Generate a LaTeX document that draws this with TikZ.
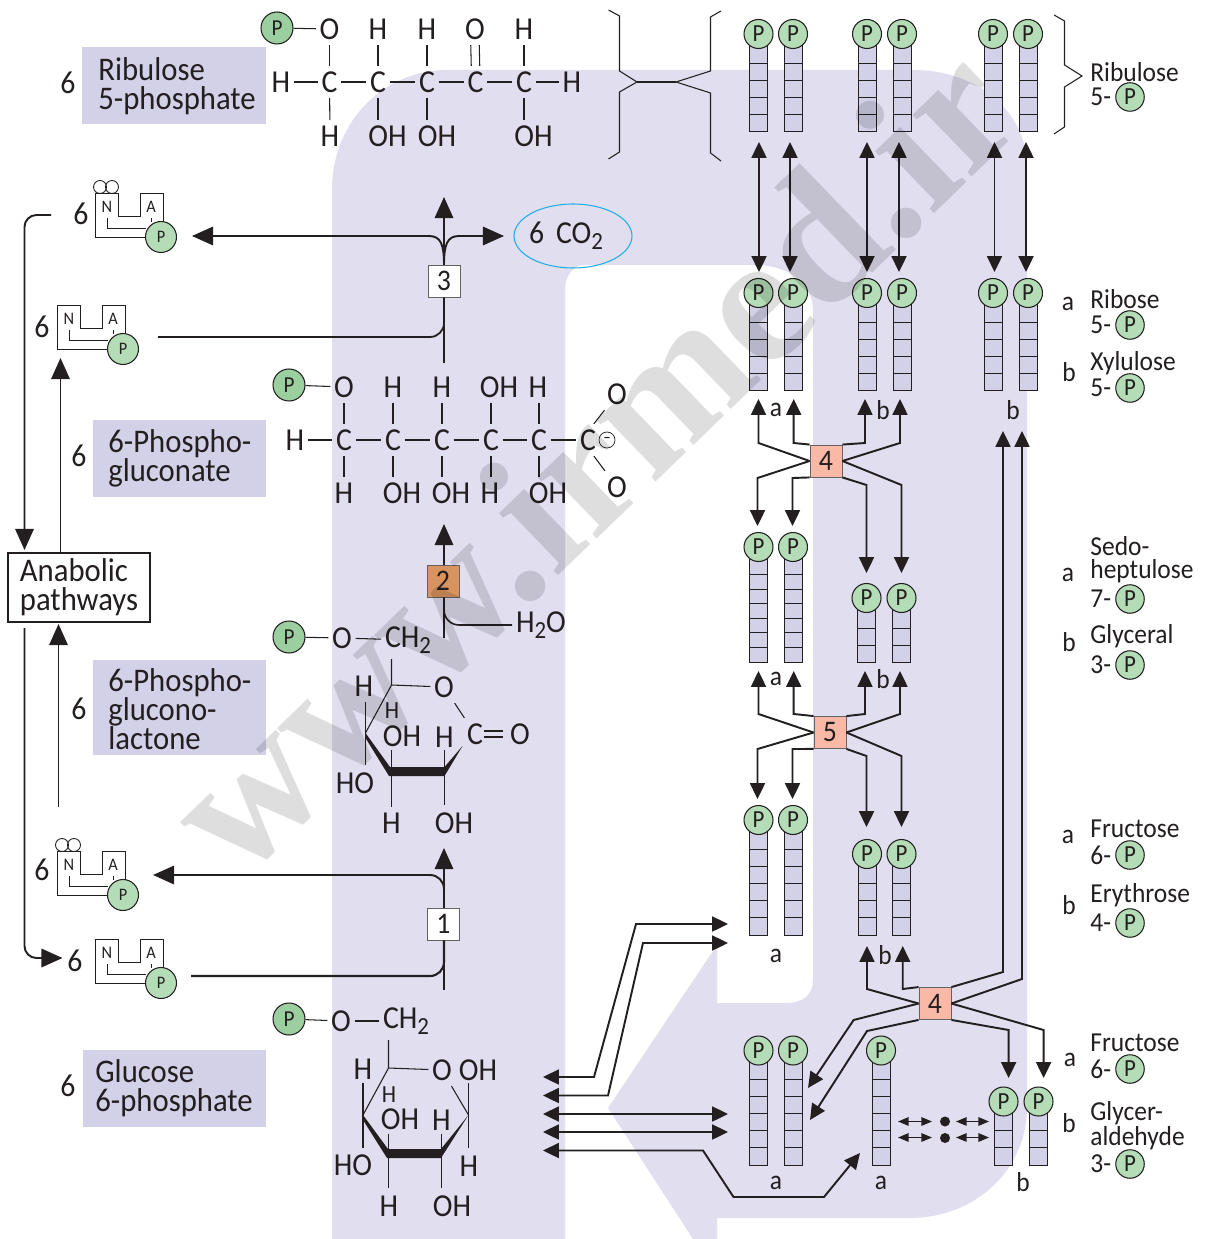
\documentclass[tikz,border=0pt]{standalone}
\usepackage{fontspec}
\setmainfont{Carlito}[FakeStretch=0.93]
\newfontfamily\stampfont{Liberation Serif}
\usetikzlibrary{arrows.meta,shapes.geometric}
\definecolor{band}{HTML}{E0DEEF}
\definecolor{lilac}{HTML}{D3D1E8}
\definecolor{ink}{HTML}{231F20}
\definecolor{pgreen}{HTML}{B4DCB6}
\definecolor{pdark}{HTML}{9BCF9F}
\definecolor{salmon}{HTML}{FAB9A7}
\definecolor{brown}{HTML}{D9935F}
\definecolor{cyan}{HTML}{1CB0E6}
\newcommand{\bigfs}{\fontsize{18.2}{16.6}\selectfont}
\newcommand{\namefs}{\fontsize{18.8}{16.6}\selectfont}
\newcommand{\legfs}{\fontsize{15.6}{15.6}\selectfont}
\newcommand{\sbs}[1]{\raisebox{-0.4ex}{\fontsize{14}{14}\selectfont #1}}
\tikzset{
  chem/.style={font=\bigfs, text=ink, inner xsep=2pt, inner ysep=3pt},
  chemsm/.style={font=\fontsize{14}{14}\selectfont, text=ink, inner sep=1pt},
  bond/.style={draw=ink, line width=0.6pt},
  ringedge/.style={fill=ink, draw=none},
  namebox/.style={font=\namefs, text=ink, align=left, anchor=north west,
    inner xsep=0pt, inner ysep=0pt},
  num/.style={font=\bigfs, text=ink, inner sep=1pt},
  leg/.style={font=\legfs, text=ink, anchor=west, inner sep=0pt},
  tag/.style={font=\legfs, text=ink, inner sep=0pt},
  pbig/.style={circle, draw=ink, fill=pgreen, line width=0.6pt, minimum size=0.58cm,
    inner sep=0pt, font=\fontsize{14}{14}\selectfont, text=ink},
  pleft/.style={pbig, fill=pdark, minimum size=0.64cm, font=\fontsize{13}{13}\selectfont},
  psmall/.style={pbig, minimum size=0.62cm, font=\fontsize{10}{10}\selectfont},
  nadline/.style={draw=ink, line width=0.5pt},
  nadtext/.style={font=\fontsize{10}{10}\selectfont, text=ink, inner sep=0pt},
  ring/.style={circle, draw=ink, line width=0.5pt, minimum size=0.26cm, inner sep=0pt},
  stepbox/.style={draw=ink!70, line width=0.5pt, fill=white, minimum size=0.64cm, inner sep=0pt,
    font=\fontsize{17}{17}\selectfont, text=ink},
  cell/.style={draw=ink, line width=0.55pt, fill=lilac},
  flow/.style={-{Triangle[length=9pt,width=8.5pt]}, draw=ink, line width=1.1pt},
  flowb/.style={{Triangle[length=9pt,width=8.5pt]}-{Triangle[length=9pt,width=8.5pt]},
    draw=ink, line width=1.1pt},
  flowbig/.style={-{Triangle[length=12pt,width=10.5pt]}, draw=ink, line width=1.1pt},
  mini/.style={{Triangle[length=6pt,width=4.8pt]}-{Triangle[length=6pt,width=4.8pt]},
    draw=ink, line width=0.8pt},
  axis/.style={draw=ink, line width=1pt},
}
% #1 name, #2 x, #3 y of the P, #4 bottom, #5 cell height, #6 inner lines
\newcommand{\cellstack}[6]{
  \draw[cell] ({#2-9},#3) rectangle ({#2+9},#4);
  \foreach \k in {1,...,#6}
    \draw[cell] ({#2-9},{#4-\k*#5}) -- ({#2+9},{#4-\k*#5});
  \node[pbig] (#1) at (#2,#3) {P};
}
% #1 name, #2 x, #3 y of the top left corner
\newcommand{\nadicon}[3]{
  \begin{scope}[shift={(#2,#3)}]
    \draw[nadline] (65,44) -- (0,44) -- (0,0) -- (23,0) -- (23,23.5) -- (45,23.5) -- (45,0)
      -- (68,0) -- (68,35);
    \draw[nadline] (12.5,25) -- (12.5,35) -- (51,35);
    \draw[nadline] (56.5,25) -- (56.5,29);
    \node[nadtext] (#1n) at (12,14) {N};
    \node[nadtext] (#1a) at (56,14) {A};
    \node[psmall] (#1) at (66,44) {P};
  \end{scope}
}

\begin{document}
\begin{tikzpicture}[x=0.02cm,y=-0.02cm]
\useasboundingbox (0,0) rectangle (1207,1239);

%% ---- background arrow ---------------------------------------------------
\fill[band] (332,1239) -- (332,190) .. controls (332,120) and (385,70) .. (447,70)
  -- (914,70) .. controls (975,70) and (1027,110) .. (1027,167)
  -- (1027,1107) .. controls (1027,1170) and (975,1218) .. (910,1218)
  -- (717,1218) -- (717,1239) -- (693,1239) -- (608,1108) -- (717,945) -- (717,1003)
  -- (786,1003) .. controls (803,1003) and (813,995) .. (813,980)
  -- (813,310) .. controls (813,285) and (790,265) .. (755,265)
  -- (585,265) .. controls (572,265) and (565,277) .. (565,290) -- (565,1239) -- cycle;

%% ---- name boxes ----------------------------------------------------------
\fill[lilac] (82,47) rectangle (266,124);
\fill[lilac] (93,420) rectangle (266,497);
\fill[lilac] (93,660) rectangle (266,755);
\fill[lilac] (83,1050) rectangle (266,1127);
\foreach \n/\x/\y/\t in {nru/98/57/{Ribulose\\5-phosphate}, ngl/108/429/{6-Phospho-\\gluconate},
    nla/108/668/{6-Phospho-\\glucono-\\lactone}, ngp/95/1059/{Glucose\\6-phosphate}}
  \node[namebox] (\n) at (\x,\y) {\t};
\foreach \n/\x/\y in {sa/68/83, sb/79/456, sc/79/709, sd/68/1086, se/81/214, sf/42/327, sg/42/870, sh/75/961}
  \node[num] (\n) at (\x,\y) {6};

%% ---- ribulose 5-phosphate -------------------------------------------------
\node[pleft] (rp) at (277,28) {P};
\foreach \n/\x/\t in {a/329.5/O, b/378/H, c/427/H, d/475/O, e/524/H}
  \node[chem] (rt\n) at (\x,29) {\t};
\foreach \n/\x in {a/329.5, b/378, c/427, d/475.5, e/524}
  \node[chem] (rc\n) at (\x,82) {C};
\node[chem] (rhl) at (281,82) {H};
\node[chem] (rhr) at (572,82) {H};
\node[chem] (rba) at (330,136) {H};
\foreach \n/\x in {b/387.5, c/437, e/533.5}
  \node[chem] (rb\n) at (\x,136) {OH};
\foreach \a/\b in {rp/rta, rhl/rca, rca/rcb, rcb/rcc, rcc/rcd, rcd/rce, rce/rhr, rta/rca, rtb/rcb,
    rtc/rcc, rte/rce, rca/rba}
  \draw[bond] (\a) -- (\b);
\foreach \n in {b,c,e}
  \draw[bond] (rc\n) -- (rc\n |- rb\n.north);
\draw[bond] ([xshift=-0.085cm]rtd.south) -- ([xshift=-0.085cm]rcd.north);
\draw[bond] ([xshift=0.085cm]rtd.south) -- ([xshift=0.085cm]rcd.north);

%% ---- 6-phosphogluconate ---------------------------------------------------
\node[pleft] (gp) at (289,385) {P};
\foreach \n/\x/\t in {a/344/O, b/393/H, c/442/H, d/499/OH, e/538/H}
  \node[chem] (gt\n) at (\x,387) {\t};
\foreach \n/\x in {a/344, b/393, c/442, d/491, e/539, f/588}
  \node[chem] (gc\n) at (\x,440) {C};
\node[chem] (ghl) at (295,440) {H};
\foreach \n/\x/\t in {a/344/H, b/402/OH, c/451/OH, d/490/H, e/548/OH}
  \node[chem] (gb\n) at (\x,493) {\t};
\node[chem] (gou) at (617,394) {O};
\node[chem] (gol) at (617,487) {O};
\node[circle, draw=ink, line width=0.4pt, minimum size=0.32cm, inner sep=0pt,
  font=\fontsize{9}{9}\selectfont] (gm) at (607,440) {--};
\foreach \a/\b in {gp/gta, ghl/gca, gca/gcb, gcb/gcc, gcc/gcd, gcd/gce, gce/gcf, gca/gba}
  \draw[bond] (\a) -- (\b);
\foreach \n in {a,b,c,e}
  \draw[bond] (gc\n) -- (gc\n |- gt\n.south);
\draw[bond] (gcd) -- (gcd |- gtd.south);
\foreach \n in {b,c,d,e}
  \draw[bond] (gc\n) -- (gc\n |- gb\n.north);
\draw[bond] (gcf.70) -- (gou);
\draw[bond] (gcf.-70) -- (gol);

%% ---- 6-phosphogluconolactone ----------------------------------------------
\node[pleft] (lp) at (289,637) {P};
\node[chem] (lo) at (342,638) {O};
\node[chem] (lch) at (408,640) {CH\sbs{2}};
\coordinate (lv1) at (391.5,685);
\coordinate (lv2) at (365.5,733);
\coordinate (lv3) at (462.5,746);
\node[chem] (lor) at (444,687) {O};
\node[chem] (lhl) at (364,686) {H};
\node[chemsm] (lhs) at (392,711) {H};
\node[chem] (loh) at (402,736) {OH};
\node[chem] (lhm) at (444.5,737) {H};
\node[chem] (lcc) at (475,734) {C};
\node[chem] (lcr) at (520,734) {O};
\node[chem] (lho) at (355,783) {HO};
\node[chem] (lhb) at (391.5,823) {H};
\node[chem] (lob) at (454,823) {OH};
\foreach \a/\b in {lp/lo, lo/lch, lv1/lor, lor/lcc}
  \draw[bond] (\a) -- (\b);
\draw[bond] (lv1 |- lch.south) -- (lv1) -- (lv2);
\draw[bond] (lv2 |- lhl.south) -- (365.5,765);
\draw[bond] (391.5,750) -- (lhb.north);
\draw[bond] (444.5,750) -- (444.5,805);
\draw[bond] (484,731) -- (503,731);
\draw[bond] (484,737) -- (503,737);
\fill[ringedge] (lv2) -- (390,767) -- (444.5,767) -- (lv3) -- (444.5,776) -- (389,776) -- (365.5,738) -- cycle;

%% ---- glucose 6-phosphate --------------------------------------------------
\node[pleft] (up) at (289,1019) {P};
\node[chem] (uo) at (341,1021) {O};
\node[chem] (uch) at (406,1021) {CH\sbs{2}};
\coordinate (uv1) at (388.5,1068);
\coordinate (uv2) at (363,1115);
\coordinate (uv3) at (468.5,1115);
\node[chem] (uor) at (442,1070) {O};
\node[chem] (uoh) at (478,1070) {OH};
\node[chem] (uhl) at (363,1069) {H};
\node[chemsm] (uhs) at (389,1095) {H};
\node[chem] (uhm) at (400,1119) {OH};
\node[chem] (uhn) at (441.5,1120) {H};
\node[chem] (uho) at (353,1165) {HO};
\node[chem] (uhr) at (469,1166) {H};
\node[chem] (uhb) at (389,1206) {H};
\node[chem] (uob) at (452,1206) {OH};
\foreach \a/\b in {up/uo, uo/uch, uv1/uor}
  \draw[bond] (\a) -- (\b);
\draw[bond] (uv1 |- uch.south) -- (uv1) -- (uv2);
\draw[bond] (uor) -- (uv3);
\draw[bond] (363,1083) -- (363,1148);
\draw[bond] (468.5,1083) -- (468.5,1148);
\draw[bond] (388.5,1134) -- (388.5,1188);
\draw[bond] (441.5,1134) -- (441.5,1188);
\fill[ringedge] (uv2) -- (388,1149) -- (441,1149) -- (uv3) -- (441,1158) -- (387,1158) -- (363,1120) -- cycle;

%% ---- NADP icons -----------------------------------------------------------
\nadicon{nia}{95}{193}
\nadicon{nib}{57}{305}
\nadicon{nic}{57}{851}
\nadicon{nid}{95}{939}
\foreach \n/\x/\y in {ra/100/187, rb/112/187, rc/62/845, rd/74/845}
  \node[ring] (\n) at (\x,\y) {};

%% ---- anabolic pathways ----------------------------------------------------
\node[draw=ink, line width=0.6pt, fill=white, minimum width=2.84cm, minimum height=1.38cm,
  font=\namefs, text=ink, align=left, inner sep=0pt] (ana) at (79,587.5)
  {Anabolic\\pathways};
\coordinate (ana1) at (51,215);
\coordinate (ana2) at (24.5,550);
\coordinate (ana3) at (24.5,628);
\coordinate (ana4) at (62.5,958);
\coordinate (ana5) at (60.5,358);
\coordinate (ana6) at (58.5,807);
\coordinate (ana7) at (58.5,624);
\draw[flowbig, rounded corners=0.24cm] (ana1) -| (ana2);
\draw[flowbig, rounded corners=0.24cm] (ana3) |- (ana4);
\draw[flowbig] (ana.north -| ana5) -- (ana5);
\draw[flowbig] (ana6) -- (ana7);

%% ---- steps 1 to 3 ---------------------------------------------------------
\coordinate (s3a) at (444,363);
\coordinate (s3b) at (444,197);
\coordinate (s3c) at (192,236);
\coordinate (s3d) at (504,236);
\coordinate (s3e) at (158,337);
\coordinate (s2a) at (444,638);
\coordinate (s2b) at (444,524);
\coordinate (s1a) at (444,990);
\coordinate (s1b) at (444,848);
\coordinate (s1c) at (153,875);
\coordinate (s1d) at (191,976);
\draw[flowbig] (s3a) -- (s3b);
\draw[flowbig] (s2a) -- (s2b);
\draw[flowbig] (s1a) -- (s1b);
\node[stepbox] (st3) at (444,281) {3};
\node[stepbox, fill=brown] (st2) at (443,581) {2};
\node[stepbox] (st1) at (443.5,924) {1};
\node[draw=cyan, line width=0.6pt, ellipse, minimum width=2.36cm, minimum height=1.28cm] (co2) at (573,236) {};
\node[chem] (co2t) at (566,236) {6\, CO\sbs{2}};
\node[chem] (hwo) at (541,625) {H\sbs{2}O};
\draw[flowbig] (st3.north) .. controls (444,245) and (441,236) .. (429,236) -- (s3c);
\draw[flowbig] (st3.north) .. controls (444,245) and (447,236) .. (459,236) -- (s3d);
\draw[axis, rounded corners=0.28cm] (s3e) -| (st3.south);
\draw[bond, line width=0.9pt, rounded corners=0.3cm] (st2.south -| s2a) |- (hwo.west);
\draw[flowbig, rounded corners=0.28cm] (st1.north -| s1a) |- (s1c);
\draw[axis, line width=1.2pt, rounded corners=0.28cm] (s1d) -| (st1.south -| s1a);

%% ---- carbon chains --------------------------------------------------------
\foreach \n/\x in {ta/758.5, tb/793, tc/867, td/902, te/993, tf/1028} {
  \cellstack{\n}{\x}{34}{131}{17}{4}
}
\foreach \n/\x in {ua/758.5, ub/793, uc/867, ud/902, ue/993, uf/1028} {
  \cellstack{\n}{\x}{293}{390.5}{17.1}{4}
}
\foreach \n/\x in {va/758.5, vb/793} {
  \cellstack{\n}{\x}{547}{662}{14.6}{6}
}
\foreach \n/\x in {vc/866.5, vd/901.5} {
  \cellstack{\n}{\x}{598}{662}{17}{2}
}
\foreach \n/\x in {wa/758.5, wb/793} {
  \cellstack{\n}{\x}{820}{935}{17.2}{5}
}
\foreach \n/\x in {wc/867, wd/901.5} {
  \cellstack{\n}{\x}{854}{935}{17.3}{3}
}
\foreach \n/\x in {xa/758.5, xb/793, xc/881} {
  \cellstack{\n}{\x}{1050.5}{1165}{17.2}{5}
}
\foreach \n/\x in {xd/1003.5, xe/1038.5} {
  \cellstack{\n}{\x}{1101.5}{1165}{17.2}{2}
}

% equilibria between the two top rows
\foreach \n/\x in {a/759, b/790, c/867, d/899, e/994.5, f/1026} {
  \coordinate (ea\n) at (\x,142);
  \coordinate (eb\n) at (\x,272);
  \draw[flowb] (ea\n) -- (eb\n);
}

% enzyme boxes
\node[stepbox, fill=salmon] (ez4) at (826,461) {4};
\node[stepbox, fill=salmon] (ez5) at (830,732.5) {5};
\node[stepbox, fill=salmon] (ez6) at (935,1003.5) {4};
\foreach \e/\a/\x/\y/\tx/\ty in {
    ez4/west/758.5/443/758.5/399, ez4/north west/793.7/443/793.7/399,
    ez4/north east/865/443/865/399, ez4/east/900/443/900/399,
    ez4/west/757.5/478/757.5/526, ez4/south west/792.5/478/792.5/526,
    ez4/south east/866.5/485/866.5/573, ez4/east/901.5/485/901.5/573,
    ez5/west/758.5/714/758.5/671, ez5/north west/793.7/714/793.7/671,
    ez5/north east/865/714/865/671, ez5/east/900/714/900/671,
    ez5/west/757.5/749/757.5/799, ez5/south west/792.5/749/792.5/799,
    ez5/south east/866.5/756/866.5/827, ez5/east/901.5/756/901.5/827,
    ez6/west/867/989/867/946, ez6/north west/902.7/989/902.7/946,
    ez6/north east/1003/972/1003/431, ez6/east/1022/979/1022/431,
    ez6/west/853.6/1020/808/1088, ez6/south west/867/1031/810/1120,
    ez6/south east/1008.6/1030/1008.6/1078, ez6/east/1043.6/1030/1043.6/1078}
  \draw[flow] (\e.\a) -- (\x,\y) -- (\tx,\ty);

% exchange with glucose 6-phosphate
\coordinate (gla) at (543,1077);
\coordinate (glb) at (543,1095.5);
\coordinate (glc) at (543,1114);
\coordinate (gld) at (543,1132);
\coordinate (gle) at (543,1150.5);
\coordinate (fra) at (728,924);
\coordinate (frb) at (728,943);
\coordinate (frc) at (728,1114);
\coordinate (frd) at (728,1132);
\coordinate (fre) at (860,1153);
\draw[flowb] (gla) -- (594,1077) -- (636,924) -- (fra);
\draw[flowb] (glb) -- (608,1095.5) -- (643,943) -- (frb);
\draw[flowb] (glc) -- (frc);
\draw[flowb] (gld) -- (frd);
\draw[flowb] (gle) -- (703,1150.5) -- (733.5,1197) -- (824,1197) -- (fre);

% triose exchange
\node[circle, fill=ink, minimum size=0.2cm, inner sep=0pt] (da) at (945,1121.5) {};
\node[circle, fill=ink, minimum size=0.2cm, inner sep=0pt] (db) at (945,1138) {};
\foreach \n/\y in {a/1121.5, b/1137.5} {
  \coordinate (ml\n) at (898,\y);
  \coordinate (mr\n) at (989,\y);
  \draw[mini] (ml\n) -- (932,\y);
  \draw[mini] (956,\y) -- (mr\n);
}

% a and b marks beside the chains
\foreach \n/\x/\y/\t in {ka/776/410/a, kb/883/410/b, kc/1013/410/b, kd/776/679/a, ke/883/679/b,
    kf/776/956/a, kg/885/955/b, kh/776/1183/a, ki/881/1183/a, kj/1023/1182/b,
    la/1068/304/a, lb/1069/372/b, lc/1068/575/a, ld/1069/642/b, le/1068/837/a, lf/1069/905/b,
    lg/1070/1060/a, lh/1069/1123/b}
  \node[tag] (\n) at (\x,\y) {\t};

%% ---- braces ---------------------------------------------------------------
\draw[bond] (608.5,10) -- (619.5,16) -- (619.5,71) -- (637,82) -- (619.5,92) -- (619.5,152) -- (608.5,159);
\draw[bond] (721,11) -- (710.5,17) -- (710.5,71) -- (676,82) -- (710.5,93) -- (710.5,153) -- (721,161);
\draw[bond] (637,82) -- (676,82);
\draw[bond] (1054,15) -- (1064.5,21) -- (1064.5,65) -- (1082,76) -- (1064.5,87) -- (1064.5,127) -- (1054,134);

%% ---- legend ---------------------------------------------------------------
\foreach \n/\y/\t in {ta/72/Ribulose, tb/299/Ribose, tc/363/Xylulose, td/546/Sedo-, te/571/heptulose,
    tf/636/Glyceral, tg/829/Fructose, th/895/Erythrose, ti/1043/Fructose, tj/1113/Glycer-, tk/1138/aldehyde}
  \node[leg] (y\n) at (1090,\y) {\t};
\foreach \n/\y/\t in {a/97/5-, b/325/5-, c/388/5-, d/599/7-, e/665/3-, f/855/6-, g/923/4-, h/1069/6-, i/1164/3-} {
  \node[leg] (z\n) at (1090,\y) {\t};
  \node[pbig, minimum size=0.57cm] (q\n) at (1130,\y) {P};
}

%% ---- site stamp -----------------------------------------------------------
\node[font=\stampfont\fontsize{106}{106}\selectfont\bfseries, text=black, text opacity=0.13,
  inner sep=0pt, rotate=44] (stamp) at (590,458) {www.irmed.ir};

\end{tikzpicture}
\end{document}
